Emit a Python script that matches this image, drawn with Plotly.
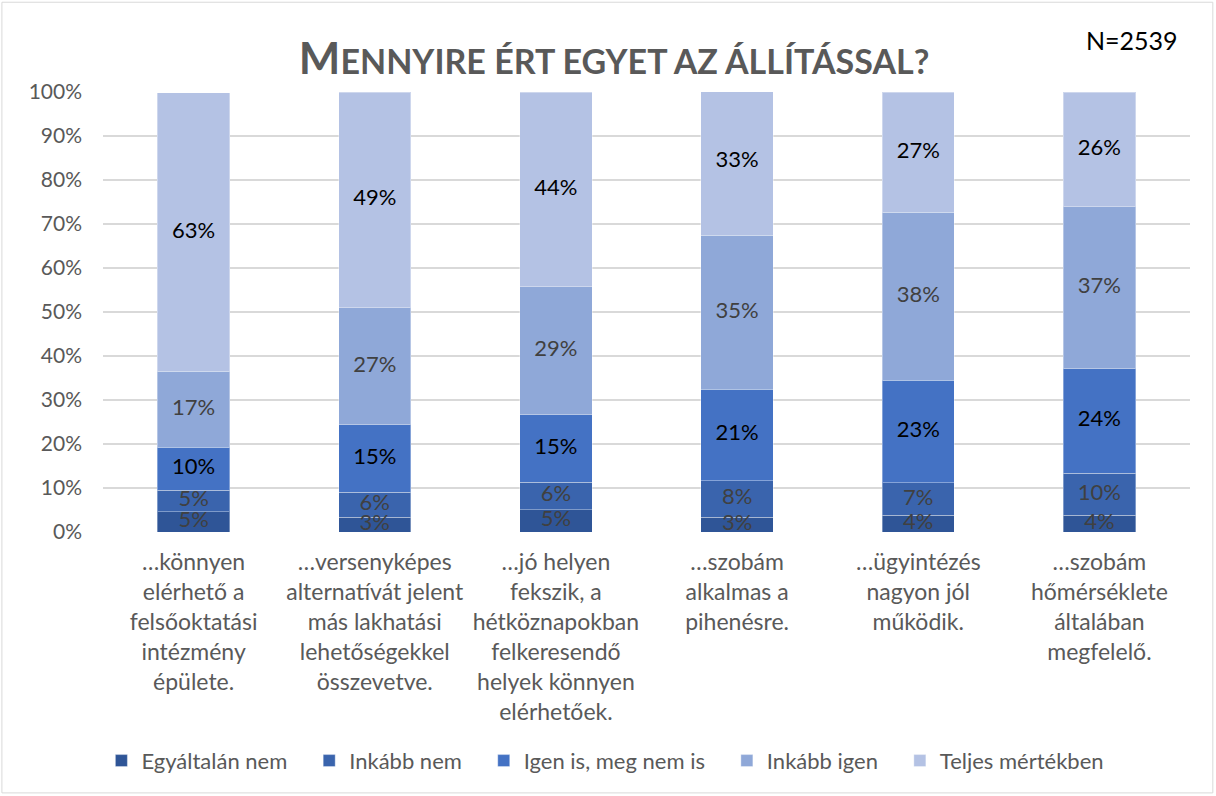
import plotly.graph_objects as go

categories = [
    "…könnyen<br>elérhető a<br>felsőoktatási<br>intézmény<br>épülete.",
    "…versenyképes<br>alternatívát jelent<br>más lakhatási<br>lehetőségekkel<br>összevetve.",
    "…jó helyen<br>fekszik, a<br>hétköznapokban<br>felkeresendő<br>helyek könnyen<br>elérhetőek.",
    "…szobám<br>alkalmas a<br>pihenésre.",
    "…ügyintézés<br>nagyon jól<br>működik.",
    "…szobám<br>hőmérséklete<br>általában<br>megfelelő.",
]

series_names = ["Egyáltalán nem", "Inkább nem", "Igen is, meg nem is", "Inkább igen", "Teljes mértékben"]

egyaltalan_nem = [4.6, 3.4, 5.1, 3.4, 3.8, 3.8]
inkabb_nem = [4.9, 5.6, 6.2, 8.3, 7.4, 9.6]
igen_is_nem_is = [9.8, 15.4, 15.4, 20.8, 23.3, 23.7]
inkabb_igen = [17.2, 26.6, 29.0, 35.0, 38.2, 36.8]
teljes = [63.3, 49.0, 44.3, 33.4, 27.3, 26.1]

series_values = [egyaltalan_nem, inkabb_nem, igen_is_nem_is, inkabb_igen, teljes]
colors = ["#2F5597", "#3A64AD", "#4472C4", "#8FA8D8", "#B4C2E4"]
label_colors = ["#404040", "#404040", "#000000", "#404040", "#000000"]

y_ticks = list(range(0, 101, 10))

FONT = "Lato, 'Open Sans', sans-serif"
PAD = "\u00a0" * 3  # a little extra room between legend entries

fig = go.Figure()

for name, vals, col in zip(series_names, series_values, colors):
    fig.add_trace(go.Bar(
        x=categories, y=vals, name=name + PAD,
        marker=dict(color=col, line=dict(color="rgba(255,255,255,0.35)", width=1)),
    ))

# data labels centred in each segment
base = [0] * len(categories)
for vals, tc in zip(series_values, label_colors):
    mids = [b + v / 2 for b, v in zip(base, vals)]
    fig.add_trace(go.Scatter(
        x=categories, y=mids, mode="text",
        text=[f"{v:.0f}%" for v in vals],
        textfont=dict(size=22, color=tc, family=FONT),
        showlegend=False, hoverinfo="skip",
    ))
    base = [b + v for b, v in zip(base, vals)]

fig.update_layout(
    barmode="stack",
    bargap=0.6,
    width=1216, height=796,
    margin=dict(l=103, r=26, t=92, b=264),
    paper_bgcolor="white", plot_bgcolor="white",
    font=dict(family=FONT, size=22, color="#595959"),
    title=dict(
        text="<b><span style='font-size:44px'>M</span>ENNYIRE ÉRT EGYET AZ ÁLLÍTÁSSAL?</b>",
        x=0.505, xanchor="center", y=0.922, yanchor="middle",
        font=dict(family=FONT, size=34, color="#595959"),
    ),
    yaxis=dict(
        range=[0, 100], tickvals=y_ticks, ticktext=[f"{t}%" for t in y_ticks],
        showgrid=True, gridcolor="#D9D9D9", gridwidth=1.5,
        zeroline=False, showline=False, ticks="", ticklabelstandoff=20,
        tickfont=dict(size=21, color="#595959"),
    ),
    xaxis=dict(
        showline=False, ticks="", tickangle=0, ticklabelstandoff=14,
        tickfont=dict(size=23, color="#595959"),
    ),
    legend=dict(
        orientation="h", x=0.47, xanchor="center", y=-0.52, yanchor="middle",
        font=dict(size=22, color="#595959"), itemwidth=30, traceorder="normal",
    ),
    annotations=[dict(
        text="N=2539", xref="paper", yref="paper", x=0.947, y=1.118,
        xanchor="center", yanchor="middle", showarrow=False,
        font=dict(size=25, color="#000000", family=FONT),
    )],
    shapes=[dict(
        type="rect", xref="paper", yref="paper",
        x0=-0.093, x1=1.021, y0=-0.593, y1=1.204,
        line=dict(color="#D9D9D9", width=1), fillcolor="rgba(0,0,0,0)",
    )],
)

fig.write_html("out.html", config={"displayModeBar": False},
               post_script="document.body.style.margin='0';")
